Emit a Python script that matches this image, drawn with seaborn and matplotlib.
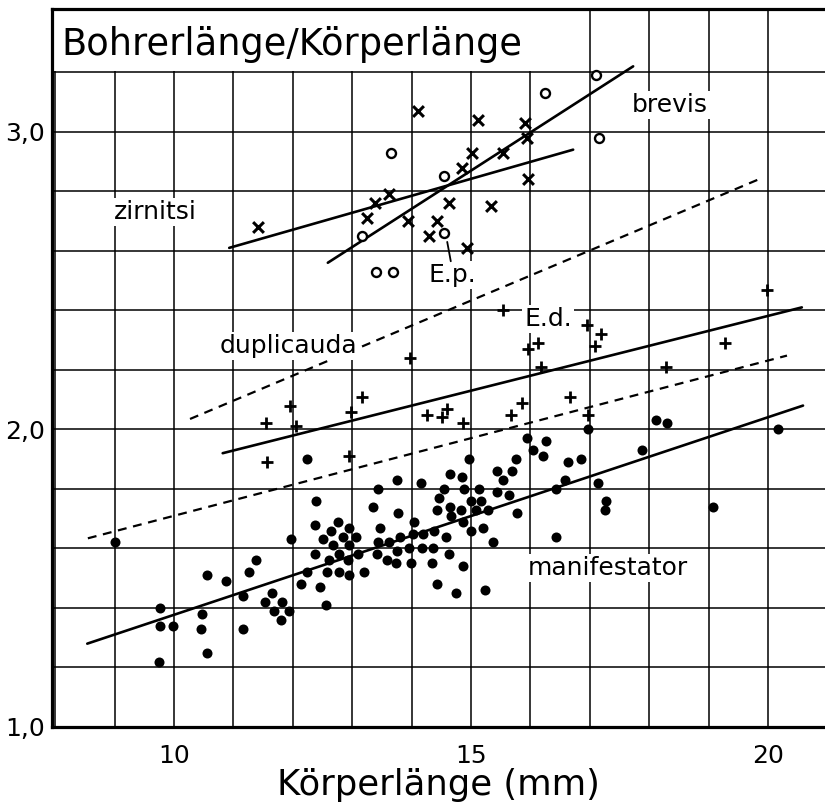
import matplotlib
matplotlib.use("Agg")
import matplotlib.pyplot as plt
from matplotlib.patches import Rectangle
from matplotlib.ticker import MultipleLocator, FixedLocator
import seaborn as sns

# manifestator (filled dots)
man_x = [9.01, 9.76, 9.76, 9.98, 9.75, 10.47, 10.45, 10.56, 10.56, 10.88,
         11.16, 11.16, 11.26, 11.38, 11.53, 11.65, 11.82, 11.68, 11.94, 11.80,
         11.97, 12.14, 12.24, 12.24, 12.39, 12.37, 12.76, 12.95, 12.64, 12.51,
         12.85, 13.06, 12.68, 12.95, 12.37, 12.78, 13.10, 12.61, 12.93, 12.58,
         12.78, 12.95, 13.20, 12.46, 12.56, 13.43, 13.75, 14.16, 13.35, 13.77,
         13.47, 14.04, 13.43, 13.62, 13.80, 14.02, 14.19, 14.38, 14.58, 13.42,
         13.75, 13.96, 14.18, 14.36, 13.59, 13.74, 13.99, 14.34, 14.63, 14.87,
         14.43, 14.75, 15.24, 14.97, 14.65, 14.85, 14.55, 14.88, 15.13, 14.46,
         15.00, 15.17, 14.65, 14.43, 14.83, 15.08, 15.29, 14.66, 14.87, 15.00,
         15.20, 15.37, 15.44, 15.69, 15.54, 15.76, 15.44, 15.64, 15.77, 15.94,
         16.04, 16.21, 16.26, 16.63, 16.85, 16.97, 17.88, 18.11, 18.30, 20.17,
         16.43, 16.58, 17.14, 17.27, 17.26, 16.43, 19.07]
man_y = [1.62, 1.40, 1.34, 1.34, 1.22, 1.38, 1.33, 1.25, 1.51, 1.49,
         1.44, 1.33, 1.52, 1.56, 1.42, 1.45, 1.42, 1.39, 1.39, 1.36,
         1.63, 1.48, 1.52, 1.90, 1.76, 1.68, 1.69, 1.67, 1.66, 1.63,
         1.64, 1.64, 1.61, 1.61, 1.58, 1.58, 1.58, 1.56, 1.56, 1.52,
         1.52, 1.51, 1.52, 1.47, 1.41, 1.80, 1.83, 1.82, 1.74, 1.72,
         1.67, 1.69, 1.62, 1.62, 1.64, 1.65, 1.65, 1.66, 1.64, 1.58,
         1.59, 1.60, 1.60, 1.60, 1.56, 1.55, 1.55, 1.55, 1.58, 1.54,
         1.48, 1.45, 1.46, 1.90, 1.85, 1.84, 1.80, 1.80, 1.80, 1.77,
         1.76, 1.76, 1.74, 1.73, 1.73, 1.73, 1.73, 1.71, 1.69, 1.66,
         1.67, 1.62, 1.86, 1.86, 1.83, 1.90, 1.79, 1.78, 1.72, 1.97,
         1.93, 1.91, 1.96, 1.89, 1.90, 2.00, 1.93, 2.03, 2.02, 2.00,
         1.80, 1.83, 1.82, 1.76, 1.73, 1.64, 1.74]

# duplicauda (+)
dup_x = [13.97, 13.16, 11.95, 12.98, 11.55, 12.05, 14.26, 14.60, 14.51, 14.87,
         11.57, 12.95, 15.54, 19.98, 16.95, 17.19, 17.09, 16.13, 15.96, 16.18,
         19.28, 18.28, 16.67, 15.86, 15.67, 16.97]
dup_y = [2.24, 2.11, 2.08, 2.06, 2.02, 2.01, 2.05, 2.07, 2.04, 2.02,
         1.89, 1.91, 2.40, 2.47, 2.35, 2.32, 2.28, 2.29, 2.27, 2.21,
         2.29, 2.21, 2.11, 2.09, 2.05, 2.05]

# zirnitsi (x)
zir_x = [14.11, 15.12, 15.02, 14.85, 13.62, 13.38, 14.63, 15.34, 11.41, 13.25,
         13.94, 14.43, 14.29, 14.93, 15.91, 15.94, 15.54, 15.96]
zir_y = [3.07, 3.04, 2.93, 2.88, 2.79, 2.76, 2.76, 2.75, 2.68, 2.71,
         2.70, 2.70, 2.65, 2.61, 3.03, 2.98, 2.93, 2.84]

# brevis (open circles)
bre_x = [13.65, 14.55, 13.16, 14.55, 13.40, 13.69, 16.25, 17.10, 17.15]
bre_y = [2.93, 2.85, 2.65, 2.66, 2.53, 2.53, 3.13, 3.19, 2.98]

# fitted / boundary lines (end points)
zir_line_x, zir_line_y = [10.93, 16.72], [2.61, 2.94]
bre_line_x, bre_line_y = [12.59, 17.73], [2.56, 3.22]
dup_line_x, dup_line_y = [10.82, 20.57], [1.92, 2.41]
man_line_x, man_line_y = [8.54, 20.59], [1.28, 2.08]
upper_dash_x, upper_dash_y = [10.27, 19.90], [2.035, 2.845]
lower_dash_x, lower_dash_y = [8.55, 20.32], [1.634, 2.248]

y_ticks = [1.0, 2.0, 3.0]
y_ticklabels = ["1,0", "2,0", "3,0"]
x_ticks = [10, 15, 20]
y_grid = [1.2, 1.4, 1.6, 1.8, 2.2, 2.4, 2.6, 2.8, 3.2]

sns.set_theme(style="white")
plt.rcParams["font.family"] = ["DejaVu Sans"]

fig = plt.figure(figsize=(8.25, 8.10), dpi=100)
ax = fig.add_axes([0.063, 0.1025, 0.937, 0.8865])

ax.set_xlim(7.946, 20.96)
ax.set_ylim(1.0, 3.413)

# grid
ax.set_axisbelow(True)
ax.xaxis.set_minor_locator(MultipleLocator(1))
ax.yaxis.set_minor_locator(FixedLocator(y_grid))
ax.set_xticks(x_ticks)
ax.set_yticks(y_ticks)
ax.set_yticklabels(y_ticklabels)
ax.grid(which="both", color="black", linewidth=1.1)
ax.tick_params(which="both", length=0, labelsize=18, colors="black")
ax.tick_params(axis="x", pad=12)
ax.tick_params(axis="y", pad=5)

for side in ["left", "bottom", "top"]:
    ax.spines[side].set_color("black")
    ax.spines[side].set_linewidth(2.3)
ax.spines["right"].set_visible(False)

# white title box
ax.add_patch(Rectangle((7.946, 3.205), 16.5 - 7.946, 0.3, facecolor="white",
                       edgecolor="none", zorder=0.8))
ax.text(8.10, 3.293, "Bohrerlänge/Körperlänge", fontsize=26.5, va="center",
        ha="left", color="black", zorder=5)

# lines
for lx, ly in [(zir_line_x, zir_line_y), (bre_line_x, bre_line_y),
               (dup_line_x, dup_line_y), (man_line_x, man_line_y)]:
    sns.lineplot(x=lx, y=ly, ax=ax, color="black", linewidth=1.9,
                 estimator=None, sort=False, zorder=2)
for lx, ly in [(upper_dash_x, upper_dash_y), (lower_dash_x, lower_dash_y)]:
    sns.lineplot(x=lx, y=ly, ax=ax, color="black", linewidth=1.6,
                 estimator=None, sort=False, zorder=2,
                 linestyle=(0, (4, 3)))

# points
sns.scatterplot(x=man_x, y=man_y, ax=ax, marker="o", s=52, color="black",
                edgecolor="black", linewidth=0, zorder=3)
sns.scatterplot(x=dup_x, y=dup_y, ax=ax, marker="+", s=80, color="black",
                linewidth=2.0, zorder=3)
sns.scatterplot(x=zir_x, y=zir_y, ax=ax, marker="x", s=60, color="black",
                linewidth=2.2, zorder=3)
sns.scatterplot(x=bre_x, y=bre_y, ax=ax, marker="o", s=42, facecolor="white",
                edgecolor="black", linewidth=1.7, zorder=3)

# labels
box = dict(facecolor="white", edgecolor="none", pad=1.5)
for tx, ty, s in [(9.68, 2.73, "zirnitsi"), (18.35, 3.09, "brevis"),
                  (11.92, 2.28, "duplicauda"), (17.31, 1.535, "manifestator"),
                  (14.68, 2.52, "E.p."), (16.30, 2.37, "E.d.")]:
    ax.text(tx, ty, s, fontsize=18, ha="center", va="center", color="black",
            bbox=box, zorder=4)
ax.plot([14.60, 14.66], [2.63, 2.565], color="black", linewidth=1.3, zorder=4)

ax.set_xlabel("Körperlänge (mm)", fontsize=25.5, color="black", labelpad=0)
ax.set_ylabel("")

fig.savefig("out.png", dpi=100)
